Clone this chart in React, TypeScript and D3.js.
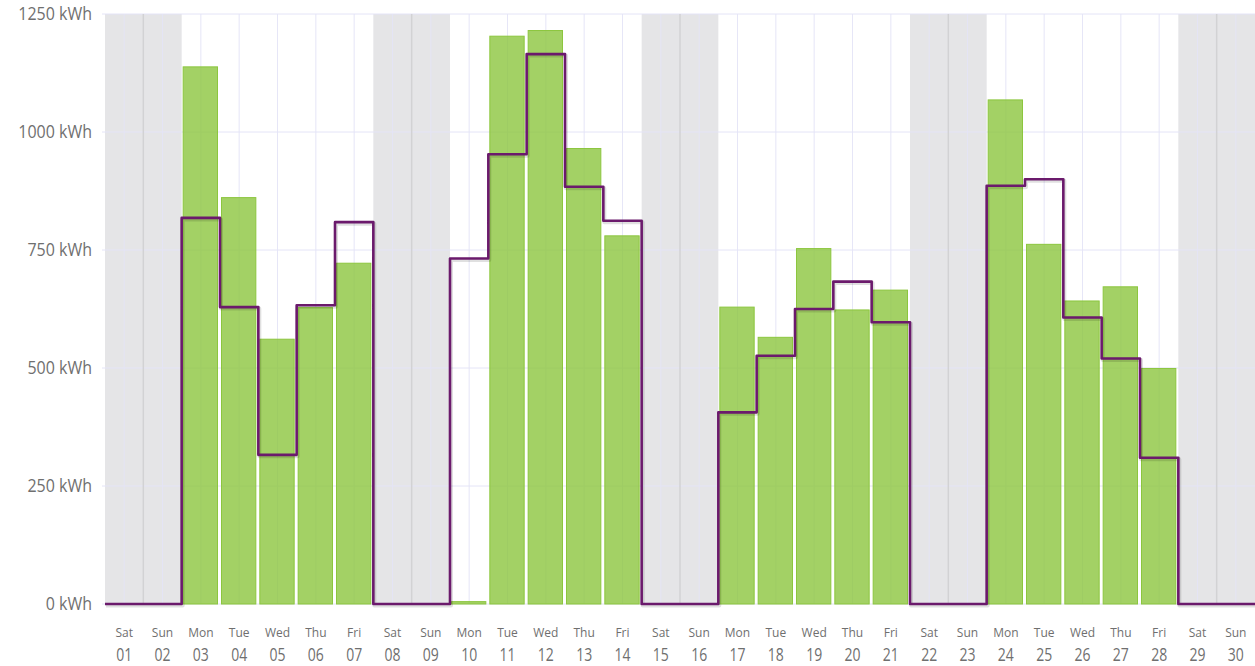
import React from 'react';
import * as d3 from 'd3';

// June: day names, day numbers, measured and expected kWh per day
const dayNames = ["Sat", "Sun", "Mon", "Tue", "Wed", "Thu", "Fri", "Sat", "Sun", "Mon", "Tue", "Wed", "Thu", "Fri", "Sat", "Sun", "Mon", "Tue", "Wed", "Thu", "Fri", "Sat", "Sun", "Mon", "Tue", "Wed", "Thu", "Fri", "Sat", "Sun"];
const dayNums = ["01", "02", "03", "04", "05", "06", "07", "08", "09", "10", "11", "12", "13", "14", "15", "16", "17", "18", "19", "20", "21", "22", "23", "24", "25", "26", "27", "28", "29", "30"];
const actual = [0, 0, 1138, 861, 561, 628, 722, 0, 0, 5, 1203, 1215, 965, 780, 0, 0, 629, 565, 753, 623, 665, 0, 0, 1068, 762, 642, 672, 499, 0, 0];
const target = [0, 0, 818, 629, 316, 633, 809, 0, 0, 732, 953, 1165, 884, 812, 0, 0, 406, 526, 625, 683, 597, 0, 0, 886, 900, 607, 520, 310, 0, 0];
const yTicks = [0, 250, 500, 750, 1000, 1250];

const width = 1255;
const height = 666;
const margin = {top: 14, left: 105, right: 0, bottom: 62};

function App() {
    const x = d3.scaleBand<string>()
        .domain(dayNums)
        .range([margin.left, width - margin.right]);
    const y = d3.scaleLinear()
        .domain([0, 1250])
        .range([height - margin.bottom, margin.top]);
    const bw = x.bandwidth();

    const pts: [number, number][] = dayNums.map((d, i) => [x(d)!, y(target[i])]);
    pts.push([x(dayNums[dayNums.length - 1])! + bw, y(target[target.length - 1])]);
    const stepLine = d3.line().curve(d3.curveStepAfter)(pts) || "";

    const isWeekend = (n: string) => n === "Sat" || n === "Sun";
    const grid = "#e4e4f7";
    const labelColor = "#6f6f6f";

    return (
        <div style={{position: 'absolute', left: 0, top: 0}}>
            <svg width={width} height={height} style={{display: 'block', fontFamily: '"Open Sans", sans-serif'}}>
                <rect x={0} y={0} width={width} height={height} fill="#ffffff"/>
                {/* weekend bands */}
                {dayNums.map((d, i) => isWeekend(dayNames[i]) ? (
                    <rect key={"wb" + d} x={x(d)} y={y(1250)} width={bw} height={y(0) - y(1250)} fill="#e5e5e7"/>
                ) : null)}
                {/* grid */}
                {yTicks.map(t => (
                    <line key={"hg" + t} x1={margin.left - 3} x2={width} y1={y(t)} y2={y(t)} stroke={grid} strokeWidth={1}/>
                ))}
                {dayNums.map(d => (
                    <line key={"vg" + d} x1={x(d)! + bw / 2} x2={x(d)! + bw / 2} y1={y(1250)} y2={y(0)} stroke={grid} strokeWidth={1} opacity={0.9}/>
                ))}
                {dayNums.map((d, i) => dayNames[i] === "Sun" ? (
                    <line key={"sb" + d} x1={x(d)} x2={x(d)} y1={y(1250)} y2={y(0)} stroke="#d2d2d4" strokeWidth={1.5}/>
                ) : null)}
                {/* bars */}
                {dayNums.map((d, i) => actual[i] > 0 ? (
                    <rect key={"b" + d} x={x(d)! + 1.5} y={y(actual[i])} width={bw - 4} height={y(0) - y(actual[i])}
                          fill="#8cc63e" fillOpacity={0.8} stroke="#8cc63e" strokeWidth={1}/>
                ) : null)}
                {/* expected step line */}
                <path d={stepLine} fill="none" stroke="rgba(0,0,0,0.12)" strokeWidth={4} transform="translate(1,1.5)" strokeLinejoin="round"/>
                <path d={stepLine} fill="none" stroke="#6b1a6c" strokeWidth={2.6} strokeLinejoin="round"/>
                {/* y labels */}
                {yTicks.map(t => (
                    <text key={"yl" + t} transform={`translate(92,${y(t) + 6}) scale(1,1.15)`} textAnchor="end"
                          fontSize={16} fill={labelColor}>{t + " kWh"}</text>
                ))}
                {/* x labels */}
                {dayNums.map((d, i) => (
                    <g key={"xl" + d}>
                        <text x={x(d)! + bw / 2} y={636.5} textAnchor="middle" fontSize={12} fill={labelColor}>{dayNames[i]}</text>
                        <text transform={`translate(${x(d)! + bw / 2},660.5) scale(1,1.35)`} textAnchor="middle"
                              fontSize={14} fill={labelColor}>{d}</text>
                    </g>
                ))}
            </svg>
        </div>
    );
}

export default App;
